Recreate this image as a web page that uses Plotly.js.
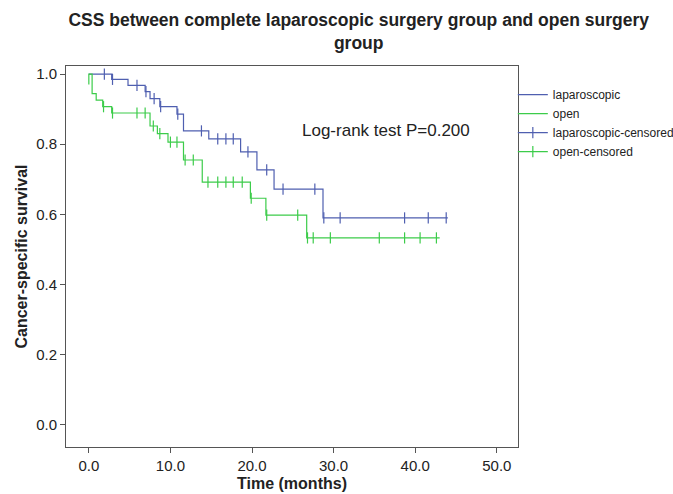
<!DOCTYPE html>
<html>
<head>
<meta charset="utf-8">
<script src="https://cdn.plot.ly/plotly-3.0.1.min.js"></script>
<style>html,body{margin:0;padding:0;background:#fff}#chart{width:673px;height:494px}</style>
</head>
<body>
<div id="chart"></div>
<script>
// Kaplan-Meier step data
var lapTimes = [0, 2.8, 4.8, 6.9, 7.5, 8.7, 10.8, 11.6, 14.7, 18.6, 20.6, 22.7, 28.7, 44.0];
var lapSurv  = [1.0, 0.985, 0.968, 0.950, 0.930, 0.907, 0.886, 0.838, 0.815, 0.778, 0.727, 0.672, 0.590, 0.590];
var lapCensor = [1.9, 2.9, 5.9, 7.0, 8.0, 8.8, 10.9, 13.8, 15.8, 16.8, 17.7, 19.5, 21.8, 23.8, 27.7, 28.8, 30.8, 38.7, 41.6, 43.8];

var openTimes = [0, 0, 0.4, 0.9, 1.7, 2.8, 7.5, 8.4, 9.7, 11.6, 13.9, 19.8, 21.7, 26.7, 43.0];
var openSurv  = [0.97, 1.0, 0.944, 0.926, 0.907, 0.889, 0.852, 0.830, 0.806, 0.755, 0.692, 0.646, 0.598, 0.533, 0.533];
var openCensor = [1.8, 2.9, 5.9, 6.9, 7.9, 8.7, 10.0, 10.8, 11.8, 12.8, 14.6, 15.8, 16.8, 17.7, 18.8, 19.9, 21.8, 25.6, 26.8, 27.5, 29.6, 35.6, 38.7, 40.6, 42.6];

var seriesNames = ['laparoscopic', 'open', 'laparoscopic-censored', 'open-censored'];
var blue = '#4f5fb0', green = '#3ccc4a';
var FONT = 'Liberation Sans, Arial, sans-serif';

function stepAt(times, surv, t) {
  var v = surv[0];
  for (var i = 0; i < times.length; i++) { if (times[i] <= t) v = surv[i]; }
  return v;
}
// censor marks: isolated points (null separators) so the legend shows line + tick like the reference
function censorXY(cens, times, surv) {
  var xs = [], ys = [];
  cens.forEach(function(t){ xs.push(t, null); ys.push(stepAt(times, surv, t), null); });
  return {x: xs, y: ys};
}
var lc = censorXY(lapCensor, lapTimes, lapSurv);
var oc = censorXY(openCensor, openTimes, openSurv);

var traces = [
  {x: lapTimes, y: lapSurv, mode: 'lines', line: {shape: 'hv', color: blue, width: 1.2}, name: seriesNames[0]},
  {x: openTimes, y: openSurv, mode: 'lines', line: {shape: 'hv', color: green, width: 1.2}, name: seriesNames[1]},
  {x: lc.x, y: lc.y, mode: 'lines+markers', connectgaps: false, line: {color: blue, width: 1.2},
   marker: {symbol: 'line-ns', size: 8, line: {color: blue, width: 1.2}}, name: seriesNames[2]},
  {x: oc.x, y: oc.y, mode: 'lines+markers', connectgaps: false, line: {color: green, width: 1.2},
   marker: {symbol: 'line-ns', size: 8, line: {color: green, width: 1.2}}, name: seriesNames[3]}
];

var axisCommon = {
  showgrid: false, zeroline: false, showline: true, mirror: true,
  linecolor: '#555', linewidth: 1, ticks: 'outside', ticklen: 5, tickcolor: '#555',
  tickfont: {family: FONT, size: 15, color: '#222'},
  tickformat: '.1f'
};

var layout = {
  width: 673, height: 494,
  margin: {l: 66, r: 155, t: 66, b: 47, autoexpand: false},
  paper_bgcolor: '#fff', plot_bgcolor: '#fff',
  font: {family: FONT, color: '#222'},
  title: {text: '<b>CSS between complete laparoscopic surgery group and open surgery<br>group</b>',
          x: 0.533, xref: 'container', xanchor: 'center', y: 0.947, yref: 'container', yanchor: 'middle',
          font: {size: 17.5, color: '#222'}},
  xaxis: Object.assign({}, axisCommon, {range: [-2.8, 52.6], tickvals: [0, 10, 20, 30, 40, 50],
          title: {text: '<b>Time (months)</b>', font: {size: 16, color: '#222'}, standoff: 4}}),
  yaxis: Object.assign({}, axisCommon, {range: [-0.063, 1.023], tickvals: [0, 0.2, 0.4, 0.6, 0.8, 1.0],
          title: {text: '<b>Cancer-specific survival</b>', font: {size: 16, color: '#222'}, standoff: 4}}),
  showlegend: true,
  legend: {xref: 'container', yref: 'container', x: 0.762, xanchor: 'left', y: 0.838, yanchor: 'top',
           bgcolor: 'rgba(0,0,0,0)', font: {size: 12, color: '#222'}, itemwidth: 30, tracegroupgap: 0},
  annotations: [{x: 36.4, y: 0.838, xref: 'x', yref: 'y', text: 'Log-rank test P=0.200', showarrow: false,
                 xanchor: 'center', font: {size: 17, color: '#222'}}]
};

Plotly.newPlot('chart', traces, layout, {displayModeBar: false, staticPlot: true});
</script>
</body>
</html>
